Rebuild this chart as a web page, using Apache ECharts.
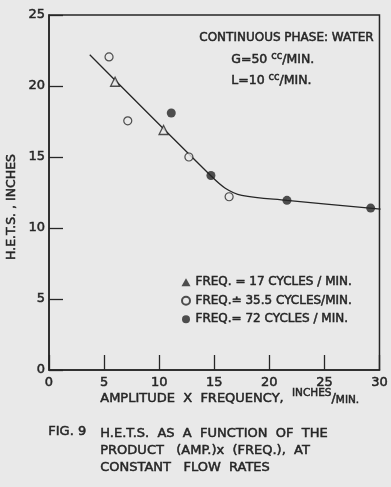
<!DOCTYPE html>
<html>
<head>
<meta charset="utf-8">
<script src="https://cdn.jsdelivr.net/npm/echarts@6/dist/echarts.min.js"></script>
<style>
  html, body { margin: 0; padding: 0; background: #e9e9e9; }
  #chart { width: 391px; height: 487px; }
</style>
</head>
<body>
<div id="chart"></div>
<script>
// values
const freq17 = [[6.0, 20.3], [10.4, 16.9]]
const freq355 = [[5.45, 22.05], [7.15, 17.55], [12.7, 15.0], [16.35, 12.2]]
const freq72 = [[11.1, 18.1], [14.7, 13.7], [21.6, 11.95], [29.2, 11.4]]
// hand drawn fit curve
const fitCurve = [[3.7, 22.2], [14.6, 13.75], [16.0, 12.8], [17.5, 12.3], [21.6, 11.95], [30.1, 11.33]]
const xTicks = [0, 5, 10, 15, 20, 25, 30]
const yTicks = [0, 5, 10, 15, 20, 25]

const ink = '#262626'
const bg = '#e9e9e9'
const font = 'DejaVu Sans'

const chart = echarts.init(document.getElementById('chart'))

// echarts text style (axis labels, legend), thin outline for heavier lettering
const txt = (size) => ({ fontFamily: font, fontSize: size, color: ink, textBorderColor: ink, textBorderWidth: 0.5 })
// zrender text style for graphic / rich pieces
const zt = (size, extra) => Object.assign({ fontFamily: font, fontSize: size, fill: ink, stroke: ink, lineWidth: 0.5 }, extra || {})

const option = {
  backgroundColor: bg,
  animation: false,
  textStyle: { fontFamily: font, color: ink },
  grid: {
    left: 49, right: 9, top: 15, bottom: 117,
    show: true, borderColor: ink, borderWidth: 1.5,
  },
  xAxis: {
    type: 'value', min: 0, max: 30, interval: 5,
    axisLine: { lineStyle: { color: ink, width: 1.5 } },
    axisTick: { inside: true, length: 15, lineStyle: { color: ink, width: 1.3 } },
    axisLabel: Object.assign(txt(13), { margin: 6, formatter: v => xTicks.includes(v) ? String(v) : '' }),
    splitLine: { show: false },
  },
  yAxis: {
    type: 'value', min: 0, max: 25, interval: 5,
    axisLine: { show: true, lineStyle: { color: ink, width: 1.5 } },
    axisTick: { inside: true, length: 14, lineStyle: { color: ink, width: 1.3 } },
    axisLabel: Object.assign(txt(13), { margin: 4, formatter: v => yTicks.includes(v) ? String(v) : '' }),
    splitLine: { show: false },
  },
  legend: {
    orient: 'vertical', left: 176, top: 271, itemGap: 6,
    itemWidth: 9, itemHeight: 8,
    textStyle: txt(12),
    data: [
      { name: 'FREQ. = 17 CYCLES / MIN.', icon: 'triangle', itemStyle: { color: ink, borderWidth: 0 } },
      { name: 'FREQ.≐ 35.5 CYCLES/MIN.', icon: 'circle' },
      { name: 'FREQ.= 72 CYCLES / MIN.', icon: 'circle' },
    ],
  },
  series: [
    {
      name: 'fit', type: 'line', data: fitCurve, smooth: 0.35, showSymbol: false,
      lineStyle: { color: ink, width: 1.3 }, z: 1,
    },
    {
      name: 'FREQ. = 17 CYCLES / MIN.', type: 'scatter', data: freq17,
      symbol: 'triangle', symbolSize: 9,
      itemStyle: { color: bg, borderColor: ink, borderWidth: 1.3 }, z: 3,
    },
    {
      name: 'FREQ.≐ 35.5 CYCLES/MIN.', type: 'scatter', data: freq355,
      symbol: 'circle', symbolSize: 8,
      itemStyle: { color: bg, borderColor: ink, borderWidth: 1.2 }, z: 3,
    },
    {
      name: 'FREQ.= 72 CYCLES / MIN.', type: 'scatter', data: freq72,
      symbol: 'circle', symbolSize: 9,
      itemStyle: { color: ink }, z: 3,
    },
  ],
  graphic: [
    { type: 'text', left: 199, top: 32, style: zt(12, { text: 'CONTINUOUS PHASE: WATER' }) },
    {
      type: 'text', left: 231, top: 51,
      style: {
        text: '{a|G=50 }{s|cc}{a|/MIN.}', fill: ink,
        rich: { a: zt(12.5, { padding: [6, 0, 0, 0] }), s: zt(10) },
      },
    },
    {
      type: 'text', left: 231, top: 72,
      style: {
        text: '{a|L=10 }{s|cc}{a|/MIN.}', fill: ink,
        rich: { a: zt(12.5, { padding: [6, 0, 0, 0] }), s: zt(10) },
      },
    },
    {
      type: 'text', x: 12, y: 207, rotation: Math.PI / 2, originX: 0, originY: 0,
      style: zt(12.5, { text: 'H.E.T.S. , INCHES', align: 'center', verticalAlign: 'middle' }),
    },
    {
      type: 'text', left: 100, top: 388,
      style: {
        text: '{a|AMPLITUDE  X  FREQUENCY,  }{s|INCHES}{a|/}{b|MIN.}', fill: ink,
        rich: {
          a: zt(13, { padding: [5, 0, 0, 0] }),
          s: zt(10.5, { padding: [0, 0, 5, 0] }),
          b: zt(10.5, { padding: [8, 0, 0, 0] }),
        },
      },
    },
    { type: 'text', left: 48, top: 425, style: zt(13, { text: 'FIG. 9' }) },
    {
      type: 'text', left: 100, top: 425,
      style: zt(13, {
        text: 'H.E.T.S.  AS  A  FUNCTION  OF  THE\nPRODUCT   (AMP.)x  (FREQ.),  AT\nCONSTANT   FLOW  RATES',
        lineHeight: 17,
      }),
    },
  ],
}

chart.setOption(option)
</script>
</body>
</html>
